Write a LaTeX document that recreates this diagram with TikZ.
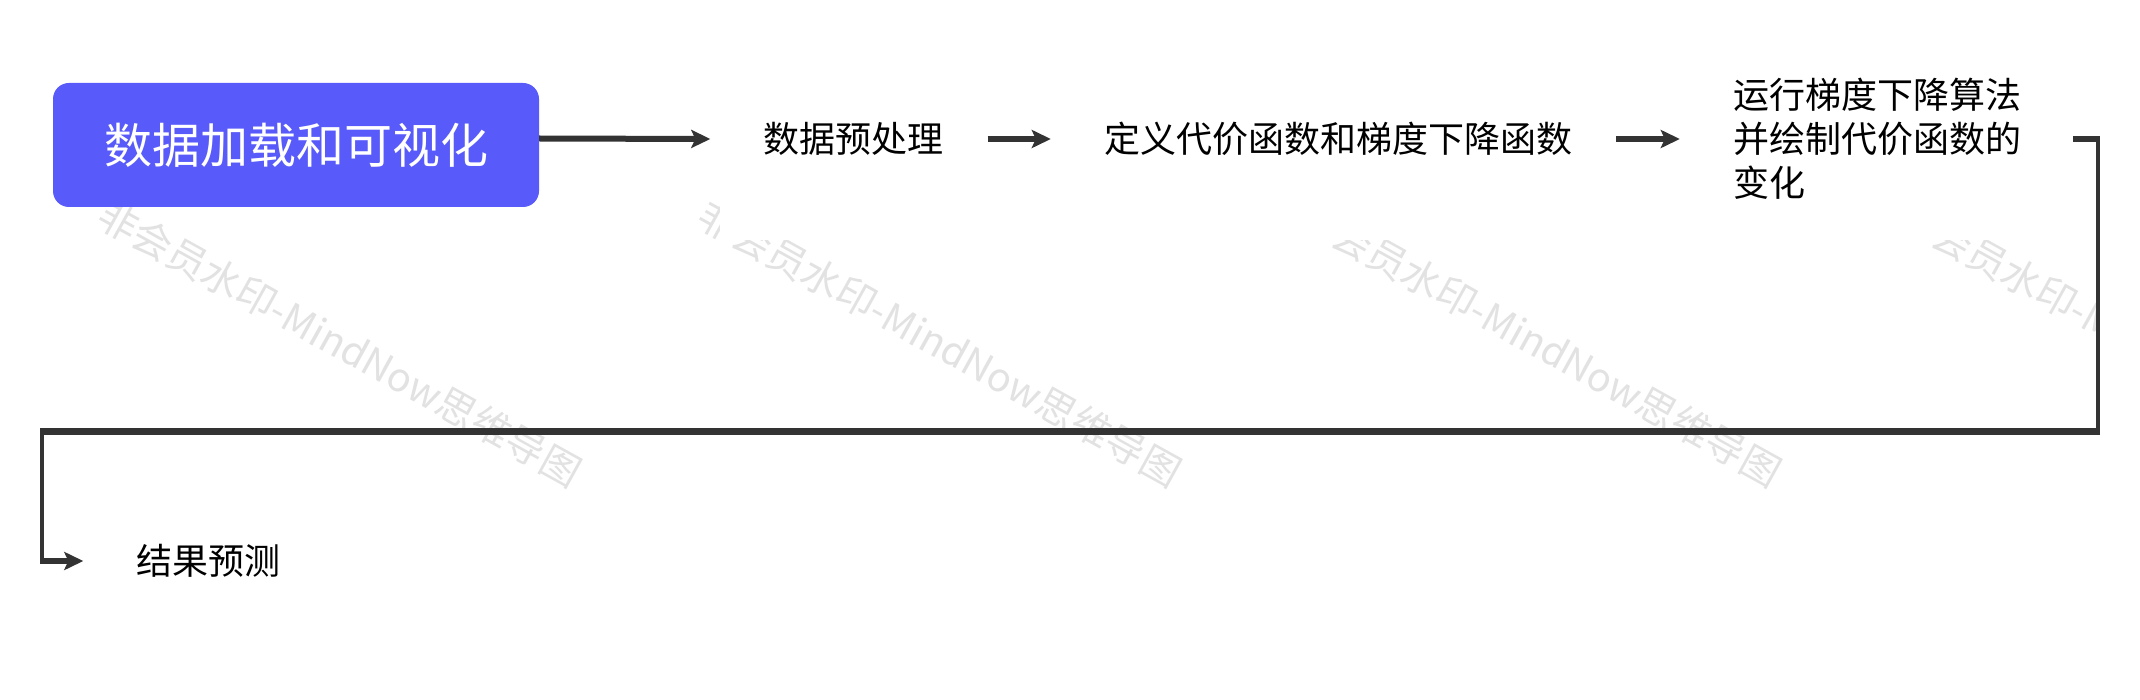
\documentclass[tikz,border=0pt]{standalone}
\usepackage{fontspec}
\newfontfamily\cjk{Noto Sans CJK SC}
\usetikzlibrary{arrows.meta}
\definecolor{boxblue}{RGB}{88,90,250}
\definecolor{linegray}{RGB}{51,51,51}
\definecolor{wmgray}{RGB}{226,226,226}
\begin{document}
\begin{tikzpicture}[x=1pt,y=-1pt,
  conn/.style={draw=linegray,line width=6pt,-{Stealth[length=19pt,width=18pt,inset=4pt]}},
  txt/.style={font=\cjk\fontsize{36}{44}\selectfont,text=black,inner sep=0pt},
  rootbox/.style={fill=boxblue,rounded corners=16pt,minimum width=486pt,minimum height=124pt,inner sep=0pt,text=white,font=\cjk\fontsize{48}{58}\selectfont},
  wm/.style={font=\cjk\fontsize{39.5}{40}\selectfont,text=wmgray,rotate=-29,anchor=base west,inner sep=0pt},
  elbow/.style={draw=linegray,line width=4pt},
  elbowh/.style={draw=linegray,line width=6.5pt}]
\useasboundingbox (0,0) rectangle (2140,700);
\fill[white] (0,0) rectangle (2140,700);
% watermark
\begin{scope}
  \clip (0,0) rectangle (2096,700);
  \node[wm] (wm1) at (94,224) {非会员水印-MindNow思维导图};
  \node[wm] (wm2) at (694,224) {非会员水印-MindNow思维导图};
  \node[wm] (wm3) at (1294,224) {非会员水印-MindNow思维导图};
  \node[wm] (wm4) at (1894,224) {非会员水印-MindNow思维导图};
\end{scope}
\fill[white] (720,0) rectangle (2096,240);
% nodes
\node[rootbox] (b1) at (296,145) {\raisebox{-3pt}{数据加载和可视化}};
\node[txt] (t1) at (853.5,139) {数据预处理};
\node[txt] (t2) at (1338,139) {定义代价函数和梯度下降函数};
\node[txt,align=left,text width=288pt] (t3) at (1877,139) {运行梯度下降算法\\并绘制代价函数的\\变化};
\node[txt] (t4) at (208,561) {结果预测};
% connectors
\draw[conn] ([yshift=6.5pt]b1.east) -- ([xshift=-53pt]t1.west);
\draw[conn] ([xshift=44pt]t1.east) -- ([xshift=-53pt]t2.west);
\draw[conn] ([xshift=44pt]t2.east) -- ([xshift=-53pt]t3.west);
\coordinate (s3) at ([xshift=52pt]t3.east);
\coordinate (k1) at (2098,431.5);
\coordinate (k2) at (41.5,431.5);
\coordinate (e4) at ([xshift=-52.5pt]t4.west);
\draw[elbow] (s3) -| (k1) -- (k2) -- (k2 |- e4);
\draw[elbowh] (s3) -- ([xshift=2pt]s3 -| k1);
\draw[elbowh] ([xshift=2pt]k1) -- ([xshift=-1.5pt]k2);
\draw[conn] ([xshift=-1.5pt]k2 |- e4) -- (e4);
\end{tikzpicture}
\end{document}
